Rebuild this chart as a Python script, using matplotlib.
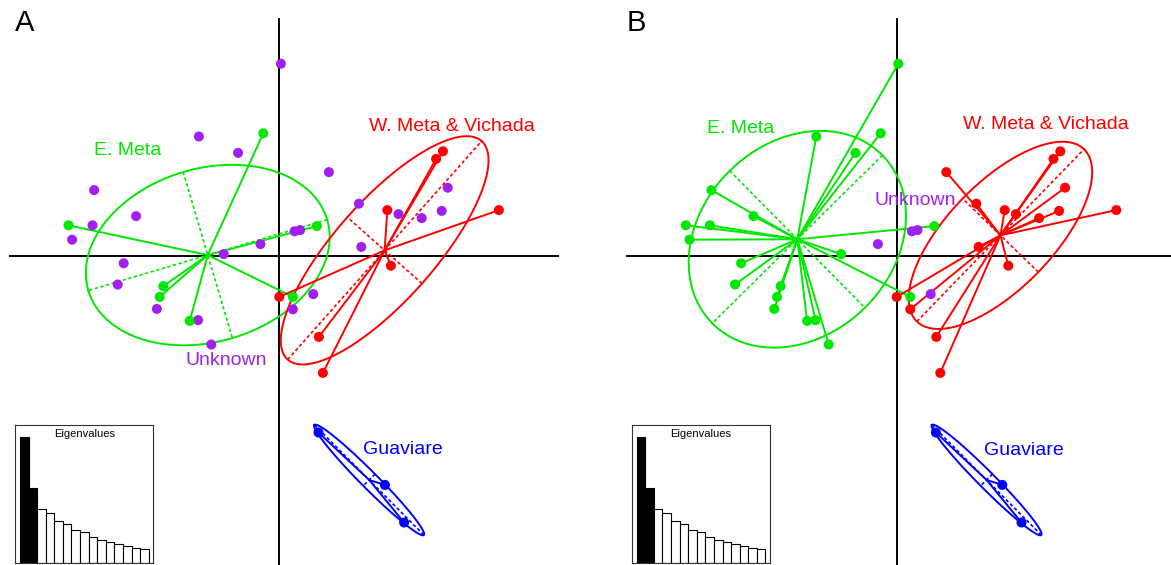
import numpy as np
import matplotlib.pyplot as plt

plt.rcParams['font.family'] = ['Liberation Sans', 'DejaVu Sans']

# Discriminant scores of the 43 individuals (LD1, LD2), same positions in A and B
ld1 = [0.04, -2.01, -1.03, -4.63, -3.58, -4.67, -5.18, -3.89, -4.04, -1.39,
       -0.47, 0.38, 0.52, 1.24, 1.99, 2.98, 3.56, 4.06, 4.21, 2.05,
       -3.06, -2.03, -1.70, 0.85, 0.34,
       -0.40, -5.27, 0.94, -2.90, -2.99, -2.24, 0.34,
       4.09, 3.92, 2.70, 5.49, 2.79, 0.00, 0.99, 1.09,
       0.98, 2.64, 3.12]
ld2 = [4.80, 2.98, 2.57, 1.64, 0.99, 0.76, 0.40, -0.19, -0.72, 0.04,
       0.29, 0.61, 0.64, 2.09, 1.30, 1.04, 0.94, 1.12, 1.70, 0.22,
       -1.33, -1.61, -2.22, -0.96, -1.34,
       3.06, 0.76, 0.74, -0.76, -1.03, -1.63, -1.03,
       2.61, 2.42, 1.14, 1.14, -0.25, -1.03, -2.03, -2.93,
       -4.42, -5.73, -6.67]

UNK, EM, WM, GU = 'Unknown', 'E. Meta', 'W. Meta & Vichada', 'Guaviare'
groups_a = [UNK] * 25 + [EM] * 7 + [WM] * 8 + [GU] * 3
groups_b = ([EM] * 10 + [UNK] * 3 + [WM] * 7 + [EM] * 3 + [UNK] + [WM]
            + [EM] * 7 + [WM] * 8 + [GU] * 3)

eigenvalues = [12.6, 7.47, 5.37, 4.93, 4.17, 3.87, 3.23, 3.03, 2.57, 2.23,
               2.03, 1.87, 1.63, 1.47, 1.37]
n_retained = 2

colors = {EM: '#00E800', WM: '#FF0000', GU: '#0000FF', UNK: '#A020F0'}
ellipse_groups = [EM, WM, GU]

label_pos_a = {EM: (-3.78, 2.64), WM: (4.31, 3.23), UNK: (-1.33, -2.61), GU: (3.10, -4.84)}
label_pos_b = {EM: (-3.90, 3.19), WM: (3.73, 3.27), UNK: (0.47, 1.37), GU: (3.18, -4.88)}

W, H = 1171, 565
PX = 40.0  # pixels per score unit


def ellipse(x, y, coeff=1.5):
    mx, my = x.mean(), y.mean()
    cov = np.cov(np.vstack([x, y]), bias=True)
    vals, vecs = np.linalg.eigh(cov)
    vals = np.clip(vals, 0, None)
    a = coeff * np.sqrt(vals[1]) * vecs[:, 1]
    b = coeff * np.sqrt(vals[0]) * vecs[:, 0]
    t = np.linspace(0, 2 * np.pi, 201)
    ex = mx + a[0] * np.cos(t) + b[0] * np.sin(t)
    ey = my + a[1] * np.cos(t) + b[1] * np.sin(t)
    return (mx, my), (ex, ey), a, b


def draw_panel(left_px, width_px, origin_px, hline_px, letter, groups, label_pos):
    ox, oy = origin_px
    ax = fig.add_axes([left_px / W, 0, width_px / W, 1])
    ax.set_xlim((left_px - ox) / PX, (left_px + width_px - ox) / PX)
    ax.set_ylim(-(H - oy) / PX, oy / PX)
    ax.axis('off')

    # axes cross
    ax.plot([(hline_px[0] - ox) / PX, (hline_px[1] - ox) / PX], [0, 0],
            color='black', lw=1.4, zorder=1)
    ax.plot([0, 0], [-(H - oy) / PX, (oy - 19) / PX], color='black', lw=1.4, zorder=1)

    x = np.array(ld1)
    y = np.array(ld2)
    g = np.array(groups)

    for grp in ellipse_groups:
        m = g == grp
        c = colors[grp]
        (mx, my), (ex, ey), a, b = ellipse(x[m], y[m])
        for xi, yi in zip(x[m], y[m]):
            ax.plot([mx, xi], [my, yi], color=c, lw=1.4, zorder=2)
        ax.plot(ex, ey, color=c, lw=1.4, zorder=2)
        for v in (a, b):
            ax.plot([mx - v[0], mx + v[0]], [my - v[1], my + v[1]], color=c,
                    lw=1.2, ls=(0, (2, 1.5)), zorder=2)

    for grp in [UNK, EM, WM, GU]:
        m = g == grp
        ax.scatter(x[m], y[m], s=52, color=colors[grp], edgecolor='none', zorder=3)

    for grp, (tx, ty) in label_pos.items():
        ax.text(tx, ty, grp, color=colors[grp], fontsize=14, ha='center',
                va='center', zorder=4)

    # eigenvalue inset
    box_left = left_px + (15.3 if letter == 'A' else 632 - 585)
    ins = fig.add_axes([box_left / W, 2.3 / H, 137.7 / W, 138 / H])
    bar_colors = ['black' if i < n_retained else 'white' for i in range(len(eigenvalues))]
    ins.bar(np.arange(len(eigenvalues)), eigenvalues, width=1, align='edge',
            color=bar_colors, edgecolor='black', lw=0.8)
    ins.set_xlim(-0.55, len(eigenvalues) + 0.5)
    ins.set_ylim(0, max(eigenvalues) * 138 / 126)
    ins.set_xticks([])
    ins.set_yticks([])
    for sp in ins.spines.values():
        sp.set_linewidth(0.8)
        sp.set_color('#333333')
    ins.text(0.5, 0.935, 'Eigenvalues', transform=ins.transAxes, ha='center',
             va='center', fontsize=8)

    fig.text((left_px + (25 if letter == 'A' else 636.7 - 585)) / W, 1 - 23 / H,
             letter, fontsize=21, ha='center', va='center')


fig = plt.figure(figsize=(W / 100, H / 100), dpi=100)
draw_panel(0, 585, (279.3, 255.7), (10, 558), 'A', groups_a, label_pos_a)
draw_panel(585, 586, (896.7, 255.7), (626.7, 1171), 'B', groups_b, label_pos_b)
fig.savefig('out.png', dpi=100)
